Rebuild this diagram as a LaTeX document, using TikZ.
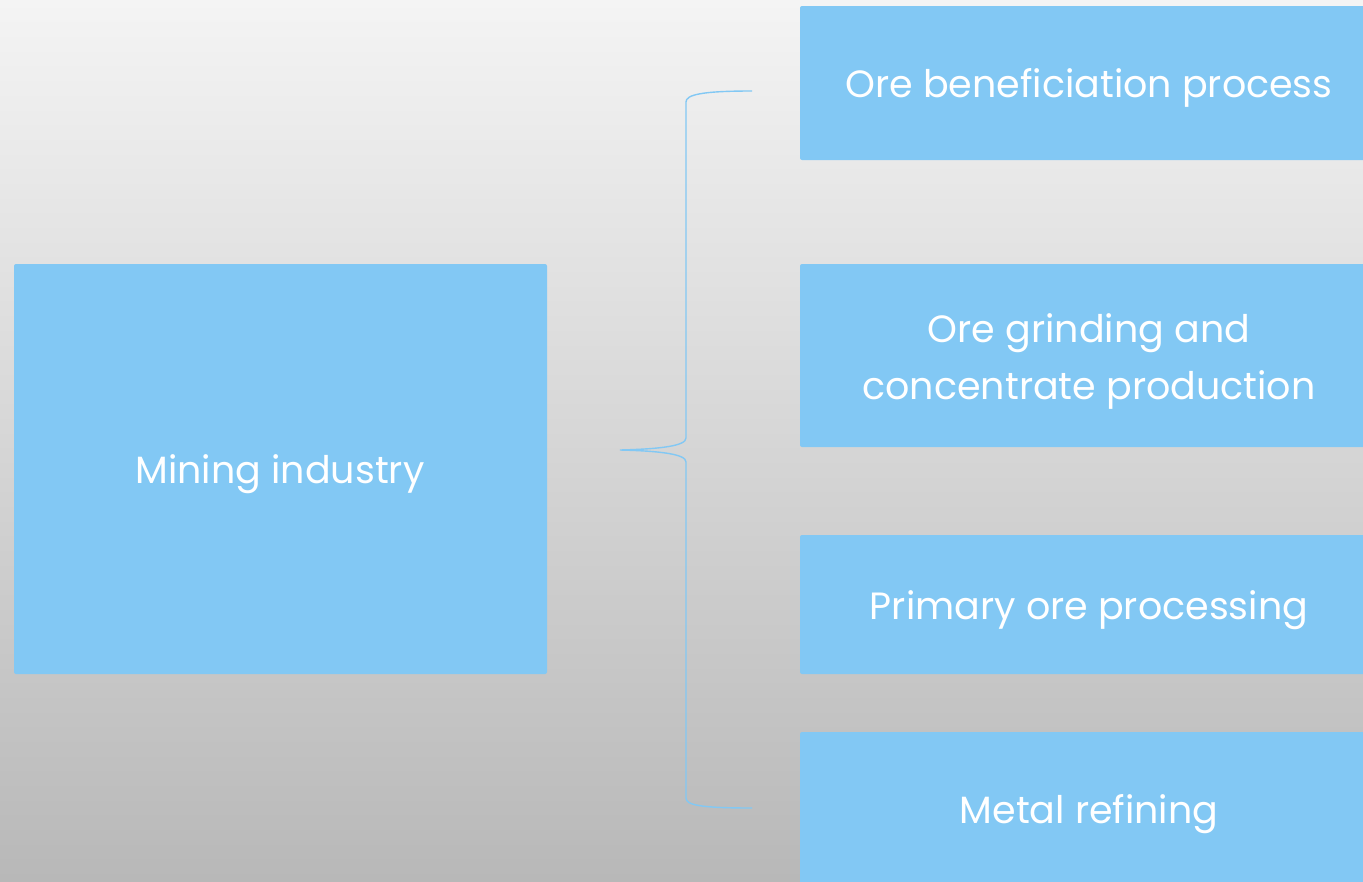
\documentclass[tikz,border=0pt]{standalone}
\usepackage{fontspec}
\setmainfont{Poppins}
\definecolor{boxblue}{HTML}{82C8F4}
\definecolor{bgtop}{HTML}{F4F4F4}
\definecolor{bgbot}{HTML}{B8B8B8}
\tikzset{
  blk/.style={fill=boxblue, draw=none, rounded corners=2pt, inner sep=0pt},
  lbl/.style={text=white, align=center, font=\fontsize{38}{57}\selectfont, inner sep=0pt},
  brace/.style={draw=boxblue, line width=1.4pt}
}
\begin{document}
\begin{tikzpicture}[x=1pt,y=-1pt]
\useasboundingbox (0,0) rectangle (1363,881);
\clip (0,0) rectangle (1363,881);
\shade[top color=bgtop, bottom color=bgbot] (0,0) rectangle (1363,881);
\node[blk, minimum width=533pt, minimum height=410pt] (mine) at (280.5,469) {};
\node[blk, minimum width=578pt, minimum height=154pt] (b1) at (1089,83) {};
\node[blk, minimum width=578pt, minimum height=183pt] (b2) at (1089,355.5) {};
\node[blk, minimum width=578pt, minimum height=139pt] (b3) at (1089,604.5) {};
\node[blk, minimum width=578pt, minimum height=170pt] (b4) at (1089,817) {};
\node[lbl] (tmine) at (280,474) {Mining industry};
\node[lbl] (t1) at (1089,88) {Ore beneficiation process};
\node[lbl] (t2) at (1089,361) {Ore grinding and\\concentrate production};
\node[lbl] (t3) at (1089,610) {Primary ore processing};
\node[lbl] (t4) at (1089,814) {Metal refining};
\coordinate (tip) at (620,450);
\coordinate (top) at (752,91);
\coordinate (bot) at (752,808);
\draw[brace] (top) .. controls (700,91) and (686,95) .. (686,102) -- (686,438)
  .. controls (686,446) and (660,449) .. (tip)
  .. controls (660,451) and (686,454) .. (686,462) -- (686,798)
  .. controls (686,805) and (700,808) .. (bot);
\end{tikzpicture}
\end{document}
